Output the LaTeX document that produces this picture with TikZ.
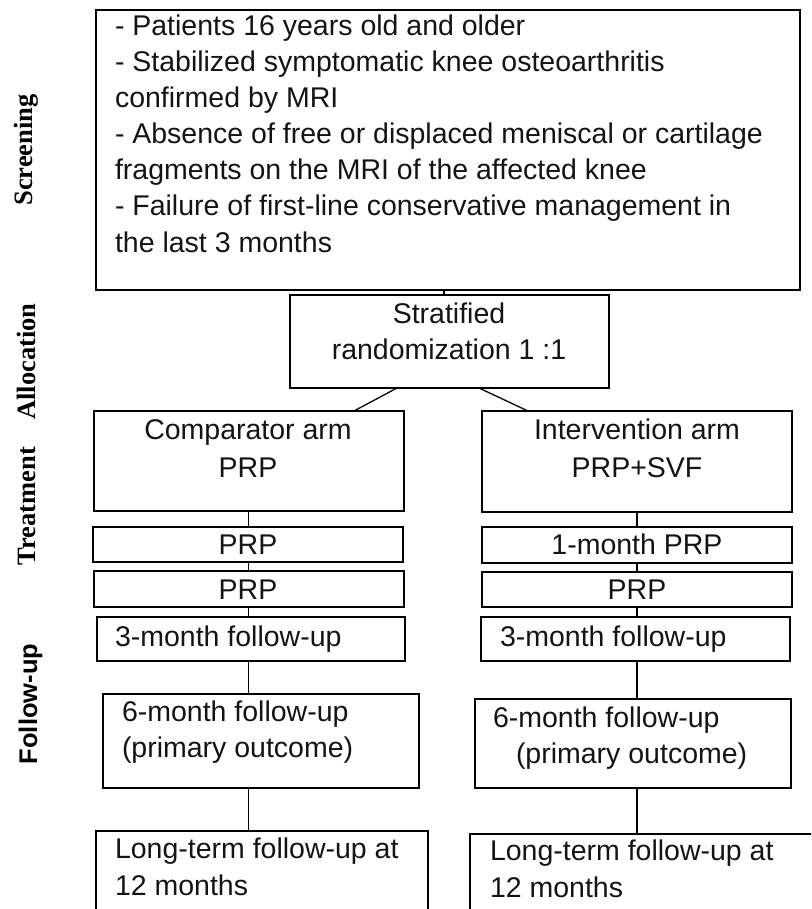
\documentclass[tikz,border=0pt]{standalone}
\usepackage{fontspec}
\setmainfont{Liberation Sans}
\newfontfamily\sidefont{Liberation Serif}
\newfontfamily\sidesans{Liberation Sans}
\definecolor{txtc}{RGB}{20,20,20}
\tikzset{
  box/.style={draw=black, line width=1.9pt, inner sep=0pt, outer sep=0pt},
  link/.style={draw=black, line width=1.3pt},
  txt/.style={inner sep=0pt, outer sep=0pt, text=txtc, font=\fontsize{28.5}{34}\selectfont},
  side/.style={inner sep=0pt, outer sep=0pt, rotate=90, anchor=base, text=black, font=\sidefont\bfseries\fontsize{26.5}{30}\selectfont},
  sides/.style={inner sep=0pt, outer sep=0pt, rotate=90, anchor=base, text=black, font=\sidesans\bfseries\fontsize{25.5}{30}\selectfont}
}
\begin{document}
\begin{tikzpicture}[x=1pt,y=-1pt]
\useasboundingbox (0,0) rectangle (811,909);
\clip (0,0) rectangle (811,909);

% side labels
\node[side] (lscr) at (32,150) {Screening};
\node[side] (lall) at (35,361.5) {Allocation};
\node[side] (ltre) at (35,506) {Treatment};
\node[sides] (lfol) at (37,704) {Follow-up};

% boxes
\node[box, minimum width=704pt, minimum height=280pt] (scr) at (448,150) {};
\node[box, minimum width=319pt, minimum height=93pt] (strat) at (449.5,341.5) {};
\node[box, minimum width=310pt, minimum height=100pt] (compL) at (249,461) {};
\node[box, minimum width=310pt, minimum height=101pt] (compR) at (637,461.5) {};
\node[box, minimum width=310pt, minimum height=35pt] (p1L) at (248,544.5) {};
\node[box, minimum width=310pt, minimum height=36pt] (p2L) at (249,589) {};
\node[box, minimum width=310pt, minimum height=36pt] (p1R) at (637,545) {};
\node[box, minimum width=310pt, minimum height=35pt] (p2R) at (637,589.5) {};
\node[box, minimum width=308pt, minimum height=44pt] (m3L) at (251,639) {};
\node[box, minimum width=309pt, minimum height=44pt] (m3R) at (635.5,639) {};
\node[box, minimum width=316pt, minimum height=94pt] (m6L) at (261,741) {};
\node[box, minimum width=316pt, minimum height=89pt] (m6R) at (633,743.5) {};
\node[box, minimum width=332pt, minimum height=89pt] (ltL) at (262,875.5) {};
\node[box, minimum width=360pt, minimum height=86pt] (ltR) at (650,877) {};

% connector x positions
\coordinate (xa) at (444,0);
\coordinate (xl) at (248.5,0);
\coordinate (xr) at (637,0);

% connectors
\draw[link] (scr.south -| xa) -- (strat.north -| xa);
\draw[link] ([xshift=-52.5pt]strat.south) -- ([xshift=105pt]compL.north);
\draw[link] ([xshift=29.5pt]strat.south) -- ([xshift=-109pt]compR.north);
\draw[link] (compL.south -| xl) -- (p1L.north -| xl);
\draw[link] (p1L.south -| xl) -- (p2L.north -| xl);
\draw[link] (p2L.south -| xl) -- (m3L.north -| xl);
\draw[link] (m3L.south -| xl) -- (m6L.north -| xl);
\draw[link] (m6L.south -| xl) -- (ltL.north -| xl);
\draw[link] (compR.south -| xr) -- (p1R.north -| xr);
\draw[link] (p1R.south -| xr) -- (p2R.north -| xr);
\draw[link] (p2R.south -| xr) -- (m3R.north -| xr);
\draw[link] (m3R.south -| xr) -- (m6R.north -| xr);
\draw[link] (m6R.south -| xr) -- (ltR.north -| xr);

% screening text
\node[txt, anchor=base west] (s1) at (115,36) {- Patients 16 years old and older};
\node[txt, anchor=base west] (s2) at (115,72) {- Stabilized symptomatic knee osteoarthritis};
\node[txt, anchor=base west] (s3) at (115,108) {confirmed by MRI};
\node[txt, anchor=base west] (s4) at (115,144) {- Absence of free or displaced meniscal or cartilage};
\node[txt, anchor=base west] (s5) at (115,180) {fragments on the MRI of the affected knee};
\node[txt, anchor=base west] (s6) at (115,216) {- Failure of first-line conservative management in};
\node[txt, anchor=base west] (s7) at (115,252) {the last 3 months};

% allocation text
\node[txt, anchor=base] (a1) at (449,323) {Stratified};
\node[txt, anchor=base] (a2) at (449,359) {randomization 1 :1};

% arms
\node[txt, anchor=base] (cl1) at (248,439) {Comparator arm};
\node[txt, anchor=base] (cl2) at (248,477) {PRP};
\node[txt, anchor=base] (cr1) at (637,439) {Intervention arm};
\node[txt, anchor=base] (cr2) at (637,477) {PRP+SVF};

\node[txt, anchor=base] (tl1) at (248,554) {PRP};
\node[txt, anchor=base] (tl2) at (248,599) {PRP};
\node[txt, anchor=base] (tr1) at (637,554) {1-month PRP};
\node[txt, anchor=base] (tr2) at (637,599) {PRP};

% follow-up
\node[txt, anchor=base west] (fl3) at (115,646) {3-month follow-up};
\node[txt, anchor=base west] (fr3) at (500,646) {3-month follow-up};
\node[txt, anchor=base west] (fl6a) at (122,721) {6-month follow-up};
\node[txt, anchor=base west] (fl6b) at (122,757) {(primary outcome)};
\node[txt, anchor=base west] (fr6a) at (493,727) {6-month follow-up};
\node[txt, anchor=base west] (fr6b) at (516,763) {(primary outcome)};
\node[txt, anchor=base west] (ll1) at (115,858) {Long-term follow-up at};
\node[txt, anchor=base west] (ll2) at (115,895) {12 months};
\node[txt, anchor=base west] (lr1) at (490,860) {Long-term follow-up at};
\node[txt, anchor=base west] (lr2) at (490,897) {12 months};
\end{tikzpicture}
\end{document}
